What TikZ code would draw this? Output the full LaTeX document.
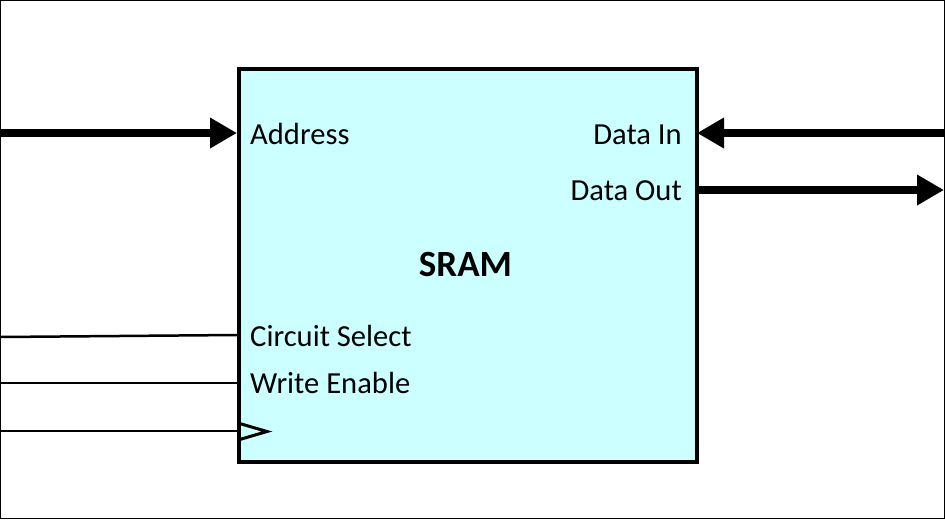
\documentclass[tikz,border=0pt]{standalone}
\usepackage{fontspec}
\setmainfont{Carlito}
\usetikzlibrary{arrows.meta}
\definecolor{sramfill}{HTML}{CCFFFF}
\tikzset{
  lbl/.style={inner sep=0pt, font=\fontsize{30.6}{36}\selectfont},
  bus/.style={line width=8pt, -{Triangle[length=27pt,width=29pt]}},
  sig/.style={line width=2.5pt},
}
\begin{document}
\begin{tikzpicture}[x=1pt,y=-1pt]
\useasboundingbox (0,0) rectangle (945,520);
\draw[line width=1.2pt] (0.6,0.6) rectangle (944.2,518.8);
\node[draw, line width=4pt, fill=sramfill, minimum width=458pt, minimum height=393pt, inner sep=0pt, anchor=north west] (sram) at (237,67) {};
\node[inner sep=0pt, font=\fontsize{37}{44}\selectfont\bfseries, anchor=base] (title) at (465.5,276) {SRAM};
\node[lbl, anchor=base west] (addr) at (250,144) {Address};
\node[lbl, anchor=base east] (din) at (682,144) {Data In};
\node[lbl, anchor=base east] (dout) at (682,200) {Data Out};
\node[lbl, anchor=base west] (cs) at (250,346) {Circuit Select};
\node[lbl, anchor=base west] (we) at (250,393) {Write Enable};
% connectors
\coordinate (addrS) at (0,133);
\coordinate (addrE) at (237,133);
\coordinate (dinS) at (945,133);
\coordinate (dinE) at (697,133);
\coordinate (doutS) at (697,190);
\coordinate (doutE) at (944,190);
\coordinate (csS) at (0,337);
\coordinate (csE) at (237,335);
\coordinate (weS) at (0,383);
\coordinate (weE) at (237,383);
\coordinate (clkS) at (0,431);
\coordinate (clkE) at (237,431);
\draw[bus] (addrS) -- (addrE);
\draw[bus] (dinS) -- (dinE);
\draw[bus] (doutS) -- (doutE);
\draw[sig] (csS) -- (csE);
\draw[sig] (weS) -- (weE);
\draw[sig] (clkS) -- (clkE);
\draw[line width=3pt, line join=miter] (238,423) -- (267,431.5) -- (238,440);
\end{tikzpicture}
\end{document}
